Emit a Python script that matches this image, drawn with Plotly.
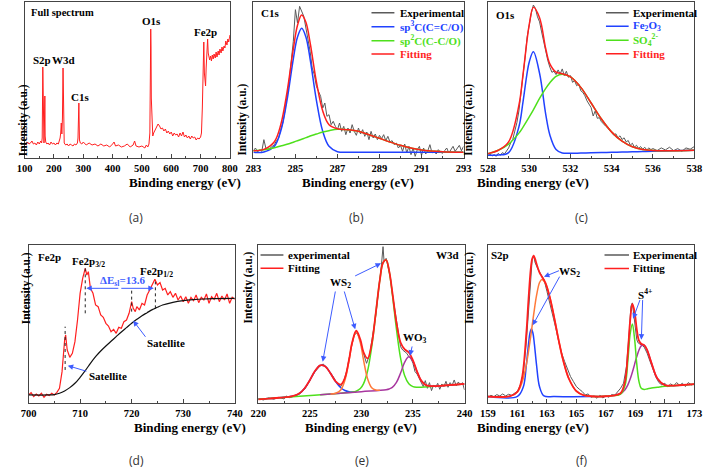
import plotly.graph_objects as go

# ---------------- (a) full spectrum ----------------
a_energy = [100, 105, 110, 115, 120, 125, 130, 135, 140, 145,
            150, 155, 158, 160, 162, 164, 166, 168, 169, 170,
            172, 176, 180, 185, 190, 195, 200, 205, 210, 215,
            218, 221, 223, 225, 227, 229, 231, 233, 235, 240,
            245, 250, 255, 260, 265, 270, 275, 280, 282, 285,
            287, 290, 295, 300, 305, 310, 320, 330, 340, 350,
            360, 370, 380, 390, 400, 405, 410, 420, 430, 440,
            450, 460, 470, 475, 480, 490, 500, 510, 515, 520,
            524, 527, 529, 530, 531, 532, 534, 537, 540, 545,
            550, 555, 560, 565, 570, 575, 580, 585, 590, 595,
            600, 605, 610, 615, 620, 625, 630, 635, 640, 645,
            650, 655, 660, 665, 670, 675, 680, 685, 690, 695,
            700, 703, 706, 709, 711, 713, 715, 717, 719, 722,
            724, 726, 728, 731, 734, 737, 740, 743, 746, 750,
            753, 756, 760, 763, 766, 770, 773, 776, 780, 783,
            786, 790, 793, 796, 800]
a_intensity = [15, 13, 16, 14, 15, 17, 14, 15, 13, 16,
               14, 17, 15, 20, 91, 18, 15, 40, 62, 22,
               16, 14, 15, 13, 16, 14, 15, 13, 15, 14,
               17, 20, 25, 35, 24, 40, 90, 30, 15, 13,
               14, 12, 14, 13, 12, 14, 13, 15, 20, 55,
               18, 15, 14, 16, 14, 13, 15, 13, 14, 12,
               14, 12, 13, 11, 14, 16, 12, 13, 11, 12,
               14, 11, 13, 17, 12, 11, 12, 10, 13, 11,
               14, 25, 90, 129, 110, 60, 30, 22, 25, 28,
               31, 34, 32, 29, 30, 27, 29, 25, 27, 24,
               26, 22, 25, 23, 24, 21, 25, 22, 26, 21,
               23, 20, 22, 19, 22, 20, 21, 18, 20, 19,
               21, 25, 50, 100, 116, 85, 75, 72, 90, 108,
               119, 105, 100, 98, 102, 97, 103, 99, 104, 100,
               106, 101, 107, 103, 109, 105, 111, 107, 112, 110,
               117, 113, 119, 116, 123]

# ---------------- (b) C1s ----------------
b_exp_x = [283.0, 283.1, 283.2, 283.3, 283.4, 283.5, 283.6, 283.7, 283.8, 283.9,
           284.0, 284.1, 284.2, 284.3, 284.4, 284.5, 284.6, 284.7, 284.8, 284.9,
           285.0, 285.1, 285.2, 285.3, 285.4, 285.5, 285.6, 285.7, 285.8, 285.9,
           286.0, 286.1, 286.2, 286.3, 286.4, 286.5, 286.6, 286.7, 286.8, 286.9,
           287.0, 287.1, 287.2, 287.3, 287.4, 287.5, 287.6, 287.7, 287.8, 287.9,
           288.0, 288.1, 288.2, 288.3, 288.4, 288.5, 288.6, 288.7, 288.8, 288.9,
           289.0, 289.1, 289.2, 289.3, 289.4, 289.5, 289.6, 289.7, 289.8, 289.9,
           290.0, 290.1, 290.2, 290.3, 290.4, 290.5, 290.6, 290.7, 290.8, 290.9,
           291.0, 291.1, 291.2, 291.3, 291.4, 291.5, 291.6, 291.7, 291.8, 291.9,
           292.0, 292.1, 292.2, 292.3, 292.4, 292.5, 292.6, 292.7, 292.8, 292.9,
           293.0]
b_exp_y = [22, 30, 18, 25, 20, 55, 28, 22, 30, 35,
           40, 52, 60, 85, 105, 140, 180, 230, 290, 350,
           445, 405, 455, 440, 425, 390, 360, 320, 270, 250,
           215, 200, 185, 150, 165, 125, 130, 100, 110, 95,
           85, 105, 80, 95, 70, 90, 75, 100, 80, 68,
           90, 72, 85, 65, 78, 55, 80, 60, 72, 55,
           68, 58, 70, 52, 65, 48, 52, 40, 45, 30,
           38, 20, 42, 15, 35, 10, 30, 5, 25, 35,
           8, 30, 12, 22, 40, 15, 20, 12, 25, 18,
           14, 22, 30, 15, 25, 35, 20, 28, 38, 22,
           35]
b_fit_x = [283, 283.5, 284, 284.3, 284.6, 284.9, 285.1, 285.3, 285.5, 285.7,
           286.0, 286.3, 286.6, 287.0, 287.5, 288, 288.5, 289, 289.5, 290,
           290.5, 291, 292, 293]
b_sp3 = [17, 18, 35, 80, 173, 297, 363, 389, 363, 297,
         173, 80, 35, 19, 17, 17, 17, 17, 17, 17,
         17, 17, 17, 17]
b_sp2 = [21.5, 25, 31, 36, 41, 47.5, 52, 56.5, 61, 66,
         72, 78, 82, 86, 85, 80, 70, 59, 48, 38,
         30, 24, 19, 17.5]
b_fit = [21.5, 26, 49, 99, 197, 327, 398, 429, 407, 346,
         228, 141, 100, 88, 85, 80, 70, 59, 48, 38,
         30, 24, 19, 17.5]

# ---------------- (c) O1s ----------------
c_exp_x = [528.0, 528.1, 528.2, 528.3, 528.4, 528.5, 528.6, 528.7, 528.8, 528.9,
           529.0, 529.1, 529.2, 529.3, 529.4, 529.5, 529.6, 529.7, 529.8, 529.9,
           530.0, 530.1, 530.2, 530.3, 530.4, 530.5, 530.6, 530.7, 530.8, 530.9,
           531.0, 531.1, 531.2, 531.3, 531.4, 531.5, 531.6, 531.7, 531.8, 531.9,
           532.0, 532.1, 532.2, 532.3, 532.4, 532.5, 532.6, 532.7, 532.8, 532.9,
           533.0, 533.1, 533.2, 533.3, 533.4, 533.5, 533.6, 533.7, 533.8, 533.9,
           534.0, 534.1, 534.2, 534.3, 534.4, 534.5, 534.6, 534.7, 534.8, 534.9,
           535.0, 535.1, 535.2, 535.3, 535.4, 535.5, 535.6, 535.7, 535.8, 535.9,
           536.0, 536.2, 536.4, 536.6, 536.8, 537.0, 537.2, 537.4, 537.6, 537.8,
           538.0]
c_exp_y = [8, 12, 6, 10, 5, 14, 8, 16, 12, 22,
           30, 45, 55, 80, 105, 140, 190, 240, 300, 360,
           400, 430, 455, 445, 420, 405, 375, 345, 320, 290,
           270, 255, 258, 248, 262, 250, 265, 245, 258, 240,
           245, 225, 230, 215, 220, 200, 195, 185, 170, 160,
           150, 125, 140, 118, 120, 108, 100, 95, 90, 82,
           75, 68, 72, 60, 66, 55, 60, 48, 52, 38,
           44, 32, 38, 28, 34, 26, 32, 24, 30, 25,
           28, 22, 30, 24, 32, 22, 28, 20, 30, 26,
           34]
c_fit_x = [528, 528.5, 529, 529.5, 529.7, 530, 530.2, 530.5, 530.8, 531,
           531.3, 531.6, 532, 532.5, 533, 533.5, 534, 534.5, 535, 535.5,
           536, 537, 538]
c_fe2o3 = [8, 8.75, 16, 93, 168, 285.5, 316, 252, 130, 68.5,
           25.4, 15, 14, 14.75, 15.5, 16.25, 17, 17.75, 18.5, 19.25,
           20, 21.5, 23]
c_so4 = [13, 23, 41.5, 74, 92, 122, 143, 177, 207, 224,
         243, 249, 241, 210, 163.5, 116, 77, 50, 33.5, 25,
         22, 21.5, 23]
c_fit = [13, 23, 48, 157, 249, 396.5, 448, 417, 325, 280,
         255.5, 250.6, 241, 210, 163.5, 116, 77, 50, 33.5, 25,
         22, 21.5, 23]

# ---------------- (d) Fe2p ----------------
d_exp_x = [700, 700.5, 701, 701.5, 702, 702.5, 703, 703.5, 704, 704.5,
           705, 705.5, 706, 706.5, 707, 707.2, 707.5, 708, 708.5, 709,
           709.5, 710, 710.5, 711, 711.3, 711.6, 712, 712.5, 713, 713.5,
           714, 714.5, 715, 715.5, 716, 716.5, 717, 717.5, 718, 718.5,
           719, 719.5, 720, 720.3, 720.7, 721, 721.5, 722, 722.5, 723,
           723.5, 724, 724.5, 725, 725.5, 726, 726.5, 727, 727.5, 728,
           728.5, 729, 729.5, 730, 730.5, 731, 731.5, 732, 732.5, 733,
           733.5, 734, 734.5, 735, 735.5, 736, 736.5, 737, 737.5, 738,
           738.5, 739, 739.5, 740]
d_exp_y = [25, 32, 20, 28, 22, 30, 18, 27, 23, 30,
           25, 33, 45, 95, 190, 205, 160, 138, 150, 185,
           250, 330, 375, 405, 385, 395, 345, 330, 295, 290,
           265, 258, 240, 232, 215, 222, 210, 228, 225, 245,
           250, 270, 305, 285, 275, 290, 280, 300, 295, 325,
           340, 355, 372, 355, 362, 340, 345, 325, 335, 318,
           330, 310, 322, 305, 320, 300, 318, 308, 325, 302,
           318, 310, 328, 300, 320, 312, 330, 305, 322, 310,
           328, 300, 318, 312]
d_bg_x = [700, 704, 705, 706, 707, 708, 709, 710, 711, 712,
          713, 714, 715, 716, 717, 718, 719, 720, 721, 722,
          723, 724, 725, 726, 728, 730, 732, 734, 736, 740]
d_bg = [25, 25, 26, 30, 37, 47, 60, 78, 98, 120,
        140, 157, 172, 186, 200, 214, 227, 240, 252, 263,
        272, 281, 288, 295, 303, 308, 311, 313, 314, 315]

# ---------------- (e) W3d ----------------
e_exp_x = [220, 220.5, 221, 221.5, 222, 222.5, 222.7, 223, 223.5, 224,
           224.5, 225, 225.5, 226, 226.3, 226.6, 227, 227.3, 227.6, 228,
           228.3, 228.6, 229, 229.3, 229.6, 229.9, 230.2, 230.5, 230.8, 231.1,
           231.4, 231.7, 231.9, 232.1, 232.2, 232.4, 232.6, 232.8, 233.0, 233.2,
           233.4, 233.6, 233.8, 234.0, 234.2, 234.4, 234.6, 234.8, 235.0, 235.2,
           235.4, 235.6, 235.8, 236.0, 236.2, 236.4, 236.6, 236.8, 237.0, 237.2,
           237.4, 237.6, 237.8, 238.0, 238.2, 238.4, 238.6, 238.8, 239.0, 239.2,
           239.4, 239.6, 239.8, 240.0]
e_exp_y = [14, 10, 16, 12, 18, 13, 22, 17, 21, 28,
           42, 70, 95, 112, 118, 108, 92, 78, 62, 50,
           68, 100, 165, 205, 212, 185, 150, 120, 145, 200,
           265, 350, 400, 470, 425, 435, 410, 380, 330, 290,
           245, 205, 170, 160, 155, 150, 140, 135, 120, 95,
           88, 75, 62, 50, 68, 45, 62, 38, 55, 48,
           60, 42, 58, 50, 66, 48, 62, 54, 70, 52,
           64, 55, 62, 40]
e_fit_x = [220, 221, 222, 223, 223.5, 224, 224.5, 225, 225.5, 226,
           226.5, 227, 227.5, 228, 228.4, 228.8, 229.1, 229.5, 229.9, 230.2,
           230.6, 231.0, 231.4, 231.8, 232.1, 232.4, 232.7, 233.0, 233.4, 233.8,
           234.2, 234.6, 235.0, 235.4, 235.8, 236.3, 237, 238, 239, 240]
e_fit = [12, 14.3, 16.6, 19.5, 22.75, 30, 45.15, 69.4, 96.65, 113.8,
         110.65, 90.1, 66.05, 56.2, 75.9, 130.6, 181.6, 217.7, 191.3, 153.9,
         134.5, 178.7, 272.3, 372.9, 421.8, 430, 396.7, 333.6, 242.1, 182.4,
         161.7, 152.5, 129, 95.2, 68.1, 53.6, 51.3, 53.4, 55.7, 58]
e_blue_x = [220, 221, 222, 223, 223.5, 224, 224.5, 225, 225.5, 226,
            226.5, 227, 227.5, 228, 228.4, 228.8, 229.1, 229.5]
e_blue = [12, 14.3, 16.6, 19.5, 22.75, 30, 45.15, 69.4, 96.65, 113.8,
          110.65, 90.1, 65.05, 46.5, 38.42, 34.94, 34.13, 34.15]
e_orange_x = [227, 227.5, 228, 228.4, 228.8, 229.1, 229.5, 229.9, 230.2, 230.6,
              231.0, 231.4, 231.8]
e_orange = [28.1, 30.25, 40.1, 68.8, 127.9, 179.9, 214.85, 181.8, 131.2, 73.9,
            47, 39.9, 39.14]
e_green_x = [220, 224, 228, 229.1, 229.5, 229.9, 230.2, 230.6, 231.0, 231.4,
             231.8, 232.1, 232.4, 232.7, 233.0, 233.4, 233.8, 234.2, 234.6, 235.0,
             235.4, 235.8, 237, 240]
e_green = [12, 21.2, 30.4, 33.4, 36.35, 44.3, 58.2, 97, 169, 270.6,
           372.7, 421.8, 430, 394.8, 327.7, 222.3, 135.4, 82.7, 58.5, 50,
           48.2, 48.34, 51.1, 58]
e_purple_x = [226, 230, 232.4, 232.7, 233.0, 233.4, 233.8, 234.2, 234.6, 235.0,
              235.4, 235.8, 236.3, 237, 238, 240]
e_purple = [25.8, 35, 40.9, 43.1, 47.8, 62.6, 90.7, 123.7, 139.6, 125.5,
            94.4, 68.1, 53.6, 51.3, 53.4, 58]

# ---------------- (f) S2p ----------------
f_exp_x = [159.0, 159.2, 159.4, 159.6, 159.8, 160.0, 160.2, 160.4, 160.6, 160.8,
           161.0, 161.2, 161.4, 161.6, 161.8, 162.0, 162.1, 162.2, 162.4, 162.6,
           162.8, 163.0, 163.2, 163.4, 163.6, 163.8, 164.0, 164.2, 164.4, 164.6,
           164.8, 165.0, 165.2, 165.4, 165.6, 165.8, 166.0, 166.2, 166.4, 166.6,
           166.8, 167.0, 167.2, 167.4, 167.6, 167.8, 168.0, 168.2, 168.4, 168.6,
           168.7, 168.8, 168.9, 169.0, 169.1, 169.2, 169.3, 169.4, 169.5, 169.6,
           169.8, 170.0, 170.2, 170.4, 170.6, 170.8, 171.0, 171.2, 171.4, 171.6,
           171.8, 172.0, 172.2, 172.4, 172.6, 172.8, 173.0]
f_exp_y = [18, 24, 20, 26, 22, 28, 22, 27, 24, 30,
           36, 55, 90, 180, 320, 430, 440, 420, 400, 385,
           370, 335, 300, 260, 225, 185, 150, 125, 100, 80,
           65, 50, 42, 35, 25, 28, 18, 22, 15, 24,
           16, 22, 18, 26, 24, 35, 45, 60, 110, 220,
           290, 300, 260, 215, 190, 180, 178, 175, 172, 168,
           150, 125, 100, 78, 62, 55, 60, 50, 58, 52,
           62, 54, 60, 50, 62, 55, 58]
f_fit_x = [159, 160.5, 161, 161.3, 161.6, 161.75, 161.9, 162.0, 162.1, 162.2,
           162.3, 162.5, 162.65, 162.9, 163.2, 163.5, 163.8, 164.1, 164.5, 165,
           165.5, 166, 166.5, 167, 167.5, 168, 168.3, 168.5, 168.65, 168.8,
           168.95, 169.1, 169.25, 169.4, 169.6, 169.8, 170.1, 170.5, 171, 171.5,
           172, 173]
f_fit = [20, 21.5, 34.6, 74, 208, 311, 400, 432, 441, 431,
         416, 390.5, 379, 360, 316, 255, 188, 129, 72.6, 36.4,
         24, 21, 20, 21, 23, 30, 65.5, 156, 248, 297,
         274, 220.6, 187, 177.8, 174, 159.4, 119.9, 73.8, 54.3, 52.7,
         54, 57]
f_blue_x = [159, 161.0, 161.4, 161.6, 161.75, 161.85, 161.95, 162.05, 162.15, 162.3,
            162.5, 162.8, 163.5, 166]
f_blue = [20, 20.6, 49.5, 113, 177, 210, 223, 210, 177, 113,
          49.5, 22, 20, 20]
f_orange_x = [159, 160.5, 161, 161.3, 161.6, 161.9, 162.1, 162.3, 162.5, 162.65,
              162.9, 163.2, 163.5, 163.8, 164.1, 164.5, 165, 165.5, 166]
f_orange = [20, 21.5, 34, 60.5, 115, 200, 265, 323, 361, 370,
            358, 316, 255, 188, 129, 72.6, 36.4, 24, 21]
f_green_x = [166, 167, 167.5, 168, 168.3, 168.5, 168.65, 168.8, 168.95, 169.1,
             169.25, 169.4, 169.6, 169.8, 170.1, 170.5, 171, 172, 173]
f_green = [20, 21, 23, 27, 53, 130.5, 207.5, 237, 192.5, 117,
           65, 45, 41.5, 43, 45.5, 48, 51, 54, 57]
f_purple_x = [166, 167, 167.5, 168, 168.3, 168.5, 168.65, 168.8, 168.95, 169.1,
              169.25, 169.4, 169.6, 169.8, 170.1, 170.5, 171, 171.5, 172, 173]
f_purple = [20, 21, 23, 29.3, 40.5, 55.8, 72.4, 93, 116.4, 139.6,
            159.3, 171.8, 173.8, 159.4, 119.9, 73.8, 54.3, 52.7, 54, 57]

# ---------------- styling ----------------
W, H = 713, 469
RED = "#ff1f1f"
BLUE = "#2142ff"
GREEN = "#4ee01c"
ORANGE = "#ff7a3a"
PURPLE = "#a8379f"
GRAY = "#5a5a5a"
ARROW = "#3d5cff"
SERIF = "Liberation Serif, 'Times New Roman', 'DejaVu Serif', serif"

fig = go.Figure()


def xr(n):
    return "x" if n == 1 else f"x{n}"


def yr(n):
    return "y" if n == 1 else f"y{n}"


def line(n, xs, ys, color, width=1.5, shape="spline"):
    fig.add_trace(go.Scatter(x=xs, y=ys, xaxis=xr(n), yaxis=yr(n), mode="lines",
                             line=dict(color=color, width=width, shape=shape),
                             showlegend=False, hoverinfo="skip"))


def txt(n, x, y, text, size=11, color="black", xanchor="center", yanchor="middle"):
    fig.add_annotation(xref=xr(n), yref=yr(n), x=x, y=y, text=f"<b>{text}</b>",
                       showarrow=False, xanchor=xanchor, yanchor=yanchor,
                       font=dict(family=SERIF, size=size, color=color))


def arrow(n, x0, y0, x1, y1, color=ARROW):
    fig.add_annotation(xref=xr(n), yref=yr(n), axref=xr(n), ayref=yr(n),
                       x=x1, y=y1, ax=x0, ay=y0, text="", showarrow=True,
                       arrowhead=2, arrowsize=1.1, arrowwidth=1, arrowcolor=color)


def key(n, x0, x1, y, color):
    fig.add_shape(type="line", xref=xr(n), yref=yr(n), x0=x0, x1=x1, y0=y, y1=y,
                  line=dict(color=color, width=1.5))


def vdot(n, x, y0, y1):
    fig.add_shape(type="line", xref=xr(n), yref=yr(n), x0=x, x1=x, y0=y0, y1=y1,
                  line=dict(color="#222222", width=1, dash="dot"))


# (a)
line(1, a_energy, a_intensity, RED, 1, "linear")
# (b)
line(2, b_exp_x, b_exp_y, GRAY, 1, "linear")
line(2, b_fit_x, b_sp3, BLUE)
line(2, b_fit_x, b_sp2, GREEN)
line(2, b_fit_x, b_fit, RED)
# (c)
line(3, c_exp_x, c_exp_y, GRAY, 1, "linear")
line(3, c_fit_x, c_fe2o3, BLUE)
line(3, c_fit_x, c_so4, GREEN)
line(3, c_fit_x, c_fit, RED)
# (d)
line(4, d_exp_x, d_exp_y, RED, 1.2, "linear")
line(4, d_bg_x, d_bg, "#111111", 1.2)
# (e)
line(5, e_exp_x, e_exp_y, GRAY, 1, "linear")
line(5, e_blue_x, e_blue, BLUE)
line(5, e_green_x, e_green, GREEN)
line(5, e_purple_x, e_purple, PURPLE)
line(5, e_orange_x, e_orange, ORANGE)
line(5, e_fit_x, e_fit, RED, 1.8)
# (f)
line(6, f_exp_x, f_exp_y, GRAY, 1, "linear")
line(6, f_blue_x, f_blue, BLUE)
line(6, f_orange_x, f_orange, ORANGE)
line(6, f_purple_x, f_purple, PURPLE)
line(6, f_green_x, f_green, GREEN)
line(6, f_fit_x, f_fit, RED, 1.8)

# ---------------- axes ----------------
top = [1 - 158 / H, 1 - 2 / H]
bot = [1 - 403.3 / H, 1 - 245 / H]
panels = [
    (1, [17 / W, 227 / W], top, [100, 800], [0, 156], 100, 50),
    (2, [251 / W, 466 / W], top, [283, 293], [0, 468], 2, 1),
    (3, [491 / W, 702 / W], top, [528, 538], [0, 464], 2, 1),
    (4, [21 / W, 232 / W], bot, [700, 740], [0, 475], 10, 5),
    (5, [256 / W, 467 / W], bot, [220, 240], [0, 475], 5, 2.5),
    (6, [491 / W, 702 / W], bot, [159, 173], [0, 473], 2, 1),
]
layout_axes = {}
for n, dx, dy, rx, ry, dt, mdt in panels:
    k = "" if n == 1 else str(n)
    layout_axes["xaxis" + k] = dict(
        domain=dx, range=rx, anchor=yr(n), showline=True, mirror=True,
        linecolor="#444444", linewidth=1, ticks="inside", ticklen=4, tickwidth=1,
        tickcolor="#444444", tick0=rx[0], dtick=dt, showgrid=False, zeroline=False,
        tickfont=dict(family=SERIF, size=10.5, color="black", weight="bold"),
        minor=dict(ticks="inside", ticklen=2, dtick=mdt, tick0=rx[0], tickcolor="#444444"),
    )
    layout_axes["yaxis" + k] = dict(
        domain=dy, range=ry, anchor=xr(n), showline=True, mirror=True,
        linecolor="#444444", linewidth=1, ticks="", showticklabels=False,
        showgrid=False, zeroline=False,
    )

fig.update_layout(width=W, height=H, margin=dict(l=0, r=0, t=0, b=0),
                  paper_bgcolor="white", plot_bgcolor="white", **layout_axes)

# axis titles & panel letters
for n, dx, dy, rx, ry, dt, mdt in panels:
    cx = (dx[0] + dx[1]) / 2
    ty = 1 - 182 / H if dy is top else 1 - 427 / H
    fig.add_annotation(xref="paper", yref="paper", x=cx, y=ty, showarrow=False,
                       yanchor="middle", text="<b>Binding energy (eV)</b>",
                       font=dict(family=SERIF, size=13, color="black"))
yt_x = {1: 8, 2: 240, 3: 480, 4: 10, 5: 245, 6: 480}
for n, dx, dy, rx, ry, dt, mdt in panels:
    yy = 1 - 82 / H if dy is top else 1 - 326 / H
    fig.add_annotation(xref="paper", yref="paper", x=yt_x[n] / W, y=yy, showarrow=False,
                       textangle=-90, text="<b>Intensity (a.u.)</b>",
                       font=dict(family=SERIF, size=11.5, color="black"))
letters = [("(a)", 122, 218), ("(b)", 357, 218), ("(c)", 595, 218),
           ("(d)", 122, 460), ("(e)", 362, 460), ("(f)", 595, 460)]
for t, px, py in letters:
    fig.add_annotation(xref="paper", yref="paper", x=px / W, y=1 - py / H, showarrow=False,
                       yanchor="middle", text=t,
                       font=dict(family="Open Sans", size=12, color="#333333"))

# (a) labels
txt(1, 116, 145, "Full spectrum", 10.5, xanchor="left")
txt(1, 160, 98, "S2p")
txt(1, 233, 98, "W3d")
txt(1, 288, 61, "C1s")
txt(1, 533, 137, "O1s")
txt(1, 717, 126, "Fe2p")

# (b) labels + key
txt(2, 283.26, 434, "C1s", xanchor="left")
key(2, 288.62, 289.71, 436, GRAY)
key(2, 288.62, 289.71, 394, BLUE)
key(2, 288.62, 289.71, 352, GREEN)
key(2, 288.62, 289.71, 312, RED)
txt(2, 289.86, 436, "Experimental", xanchor="left")
txt(2, 289.86, 394, "sp<sup>3</sup>C(C=C/O)", color=BLUE, xanchor="left")
txt(2, 289.86, 352, "sp<sup>2</sup>C(C-C/O)", color=GREEN, xanchor="left")
txt(2, 289.86, 312, "Fitting", color=RED, xanchor="left")

# (c) labels + key
txt(3, 528.27, 425, "O1s", xanchor="left")
key(3, 533.72, 534.82, 432, GRAY)
key(3, 533.72, 534.82, 392, BLUE)
key(3, 533.72, 534.82, 350, GREEN)
key(3, 533.72, 534.82, 310, RED)
txt(3, 534.95, 432, "Experimental", xanchor="left")
txt(3, 534.95, 392, "Fe<sub>2</sub>O<sub>3</sub>", color=BLUE, xanchor="left")
txt(3, 534.95, 350, "SO<sub>4</sub><sup>2-</sup>", color=GREEN, xanchor="left")
txt(3, 534.95, 310, "Fitting", color=RED, xanchor="left")

# (d) labels
txt(4, 701.45, 440, "Fe2p", xanchor="left")
txt(4, 711.6, 425, "Fe2p<sub>3/2</sub>")
txt(4, 724.8, 395, "Fe2p<sub>1/2</sub>")
txt(4, 718.2, 368, "ΔE<sub>sl</sub>=13.6", color=ARROW)
arrow(4, 717.7, 345, 711.2, 345)
arrow(4, 717.7, 345, 724.3, 345)
vdot(4, 711.0, 270, 405)
vdot(4, 724.6, 285, 365)
vdot(4, 720.0, 275, 340)
vdot(4, 707.1, 100, 230)
txt(4, 726.7, 180, "Satellite")
arrow(4, 722.9, 195, 720.3, 248)
txt(4, 715.4, 83, "Satellite")
arrow(4, 711.5, 95, 707.6, 113)

# (e) labels
txt(5, 239.68, 445, "W3d", xanchor="right")
key(5, 220.22, 222.44, 445, GRAY)
key(5, 220.22, 222.44, 405, RED)
txt(5, 222.66, 445, "experimental", xanchor="left")
txt(5, 222.66, 405, "Fitting", xanchor="left")
txt(5, 227.97, 362, "WS<sub>2</sub>")
arrow(5, 227.5, 340, 226.25, 125)
arrow(5, 228.3, 340, 229.4, 222)
arrow(5, 229.25, 380, 231.9, 420)
txt(5, 235.2, 195, "WO<sub>3</sub>")
arrow(5, 234.95, 175, 234.72, 143)

# (f) labels
txt(6, 159.04, 443, "S2p", xanchor="left")
key(6, 166.91, 168.57, 443, GRAY)
key(6, 166.91, 168.57, 403, RED)
txt(6, 168.68, 443, "Experimental", xanchor="left")
txt(6, 168.68, 403, "Fitting", xanchor="left")
txt(6, 164.54, 393, "WS<sub>2</sub>")
arrow(6, 163.92, 398, 162.8, 378)
arrow(6, 163.92, 383, 162.03, 233)
txt(6, 169.68, 328, "S<sup>4+</sup>")
arrow(6, 169.35, 313, 168.85, 253)
arrow(6, 169.5, 313, 169.41, 190)

fig.write_html("out.html",
               config={"displayModeBar": False, "staticPlot": True},
               post_script="document.body.style.margin='0';document.body.style.padding='0';")
